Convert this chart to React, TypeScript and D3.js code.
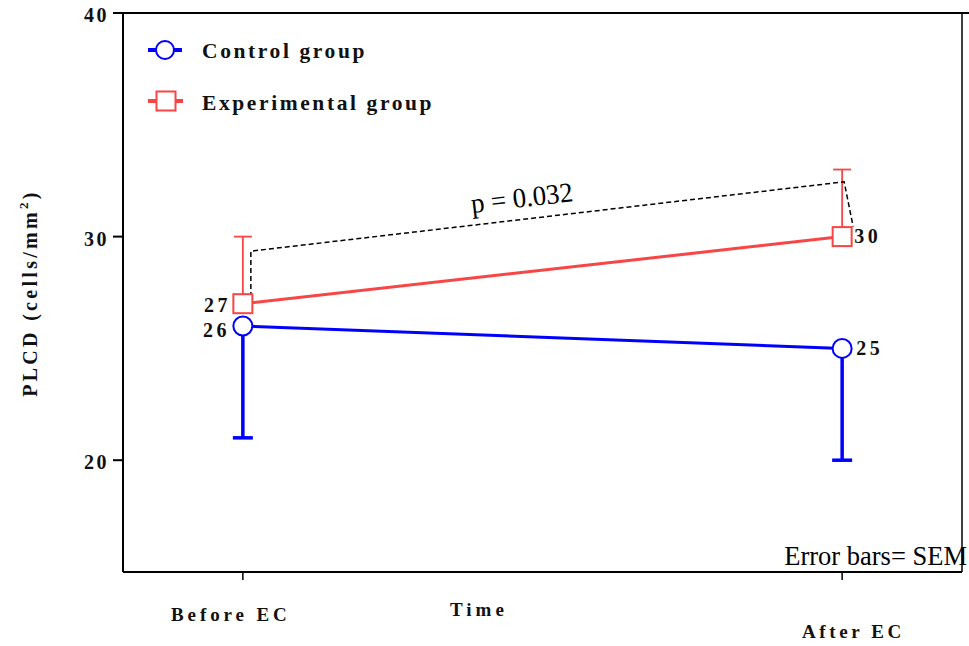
import React from "react";
import * as d3 from "d3";

// Time points and group means
const timePoints = ["Before EC", "After EC"];
const controlMeans = [26, 25];
const controlLower = [21, 20]; // error bar ends (SEM, drawn downward)
const experimentalMeans = [27, 30];
const experimentalUpper = [30, 33]; // error bar ends (SEM, drawn upward)
const yTicks = [20, 30, 40];
// Significance bracket heights (left foot, left top, right top, right foot)
const bracketValues = [27.3, 29.35, 32.45, 30.45];
const pLabel = "p = 0.032";

const W = 969;
const H = 646;
const left = 123;
const right = 962;
const top = 13;
const bottom = 572;

const serif = "'Liberation Serif', 'Times New Roman', serif";

export default function App() {
  const x = d3.scalePoint<string>().domain(timePoints).range([left, right]).padding(0.2);
  const y = d3.scaleLinear().domain([15, 40]).range([bottom, top]);
  const line = d3
    .line<number>()
    .x((_, i) => x(timePoints[i]) as number)
    .y((d) => y(d));

  const blue = "#0000ff";
  const red = "#f84545";
  const x0 = x(timePoints[0]) as number;
  const x1 = x(timePoints[1]) as number;

  const bracketPts: [number, number][] = [
    [x0 + 8, y(bracketValues[0])],
    [x0 + 8, y(bracketValues[1])],
    [x1 + 2, y(bracketValues[2])],
    [x1 + 11, y(bracketValues[3])],
  ];
  const bracket = d3.line()(bracketPts) as string;
  const angle =
    (Math.atan2(bracketPts[2][1] - bracketPts[1][1], bracketPts[2][0] - bracketPts[1][0]) * 180) / Math.PI;

  const boldLabel = {
    fontFamily: serif,
    fontWeight: 700,
    fontSize: 20,
    letterSpacing: 3.5,
    fill: "#111",
  } as const;

  return (
    <svg
      width={W}
      height={H}
      style={{ position: "absolute", left: 0, top: 0, background: "#fff" }}
    >
      {/* frame */}
      <line x1={left} x2={W} y1={top} y2={top} stroke="#000" strokeWidth={2} />
      <line x1={right} x2={right} y1={top} y2={bottom} stroke="#000" strokeWidth={1.5} />
      <line x1={left} x2={left} y1={top} y2={bottom} stroke="#000" strokeWidth={2} />
      <line x1={left} x2={right} y1={bottom} y2={bottom} stroke="#000" strokeWidth={2} />

      {/* y ticks */}
      {yTicks.map((t) => (
        <g key={t}>
          <line x1={left - 10} x2={left} y1={y(t)} y2={y(t)} stroke="#000" strokeWidth={2} />
          <text x={84} y={y(t) + 9} style={{ ...boldLabel, letterSpacing: 2.5 }}>
            {t}
          </text>
        </g>
      ))}

      {/* x ticks */}
      {timePoints.map((t) => (
        <line
          key={t}
          x1={x(t)}
          x2={x(t)}
          y1={bottom}
          y2={bottom + 8}
          stroke="#000"
          strokeWidth={1.5}
        />
      ))}
      <text x={171} y={621} style={{ ...boldLabel, fontSize: 19, letterSpacing: 3.9 }}>
        {timePoints[0]}
      </text>
      <text x={802} y={638} style={{ ...boldLabel, fontSize: 19, letterSpacing: 3.6 }}>
        {timePoints[1]}
      </text>
      <text x={450} y={616} style={{ ...boldLabel, fontSize: 19, letterSpacing: 4 }}>
        Time
      </text>

      {/* y axis title */}
      <text
        transform={`translate(37, ${293}) rotate(-90)`}
        textAnchor="middle"
        style={{ ...boldLabel, fontSize: 20, letterSpacing: 3.3 }}
      >
        PLCD (cells/mm
        <tspan dy={-9} fontSize={13}>
          2
        </tspan>
        <tspan dy={9}>)</tspan>
      </text>

      {/* error bars */}
      {controlMeans.map((m, i) => {
        const cx = x(timePoints[i]) as number;
        return (
          <g key={"ce" + i} stroke={blue} strokeWidth={3.5}>
            <line x1={cx} x2={cx} y1={y(m)} y2={y(controlLower[i])} />
            <line x1={cx - 10} x2={cx + 10} y1={y(controlLower[i])} y2={y(controlLower[i])} />
          </g>
        );
      })}
      {experimentalMeans.map((m, i) => {
        const cx = x(timePoints[i]) as number;
        return (
          <g key={"ee" + i} stroke={red} strokeWidth={1.8}>
            <line x1={cx} x2={cx} y1={y(m)} y2={y(experimentalUpper[i])} />
            <line x1={cx - 9} x2={cx + 9} y1={y(experimentalUpper[i])} y2={y(experimentalUpper[i])} />
          </g>
        );
      })}

      {/* lines */}
      <path d={line(controlMeans) as string} fill="none" stroke={blue} strokeWidth={3} />
      <path d={line(experimentalMeans) as string} fill="none" stroke={red} strokeWidth={3} />

      {/* significance bracket */}
      <path d={bracket} fill="none" stroke="#000" strokeWidth={1.5} strokeDasharray="5,3" />
      <text
        transform={`translate(472, 213) rotate(${angle}) scale(0.96, 1)`}
        style={{ fontFamily: serif, fontSize: 28, fill: "#000" }}
      >
        {pLabel}
      </text>

      {/* markers */}
      {controlMeans.map((m, i) => (
        <circle
          key={"cm" + i}
          cx={x(timePoints[i])}
          cy={y(m)}
          r={9.5}
          fill="#fff"
          stroke={blue}
          strokeWidth={2}
        />
      ))}
      {experimentalMeans.map((m, i) => (
        <rect
          key={"em" + i}
          x={(x(timePoints[i]) as number) - 9.5}
          y={y(m) - 9.5}
          width={19}
          height={19}
          fill="#fff"
          stroke={red}
          strokeWidth={2}
        />
      ))}

      {/* value labels */}
      <text x={204} y={y(experimentalMeans[0]) + 8} style={boldLabel}>
        {experimentalMeans[0]}
      </text>
      <text x={203} y={y(controlMeans[0]) + 11} style={boldLabel}>
        {controlMeans[0]}
      </text>
      <text x={x1 + 12} y={y(experimentalMeans[1]) + 6} style={boldLabel}>
        {experimentalMeans[1]}
      </text>
      <text x={x1 + 14} y={y(controlMeans[1]) + 7} style={boldLabel}>
        {controlMeans[1]}
      </text>

      {/* note */}
      <text x={967} y={565} textAnchor="end" style={{ fontFamily: serif, fontSize: 26.5, fill: "#000" }}>
        Error bars= SEM
      </text>

      {/* legend */}
      <g>
        <line x1={148} x2={182} y1={50} y2={50} stroke={blue} strokeWidth={4} />
        <circle cx={165} cy={50} r={9} fill="#fff" stroke={blue} strokeWidth={2} />
        <text x={202} y={58} style={{ ...boldLabel, fontSize: 21.5, letterSpacing: 2.6 }}>
          Control group
        </text>
        <line x1={148} x2={183} y1={101} y2={101} stroke={red} strokeWidth={4} />
        <rect x={156.5} y={91.5} width={19} height={19} fill="#fff" stroke={red} strokeWidth={2} />
        <text x={202} y={110} style={{ ...boldLabel, fontSize: 21.5, letterSpacing: 2.6 }}>
          Experimental group
        </text>
      </g>
    </svg>
  );
}
